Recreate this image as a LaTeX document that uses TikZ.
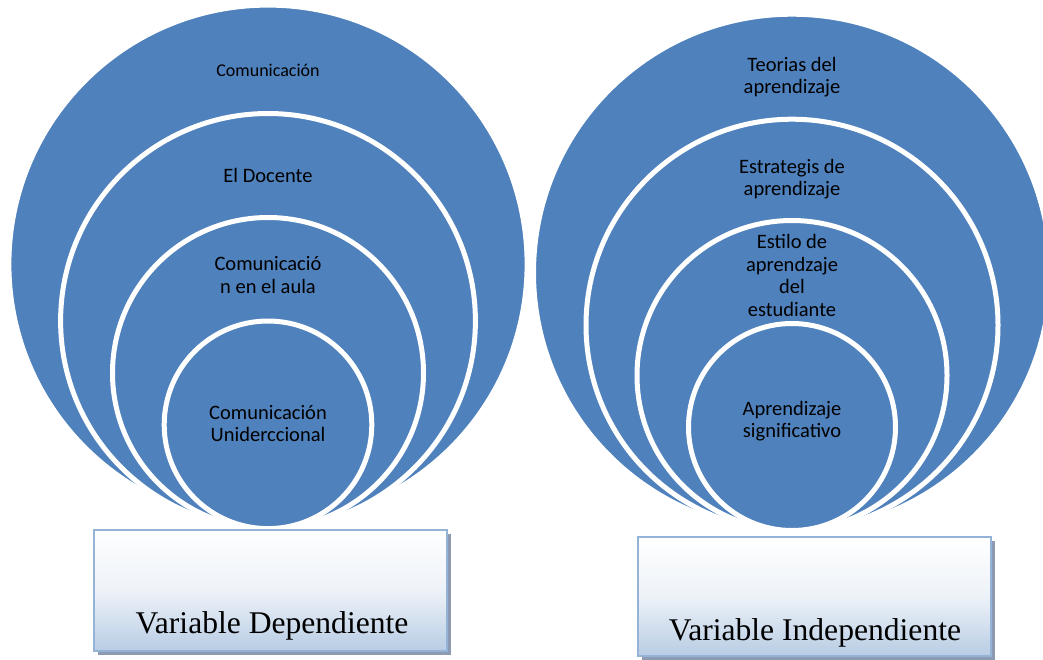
\documentclass[tikz,border=0pt]{standalone}
\usepackage{fontspec}
\setmainfont{Liberation Serif}
\newfontfamily\calib{Carlito}
\usetikzlibrary{shadows}
\definecolor{venn}{RGB}{79,129,189}
\definecolor{boxline}{RGB}{149,179,215}
\definecolor{boxfill}{RGB}{184,204,228}
\definecolor{boxshadow}{RGB}{140,155,178}
\begin{document}
\begin{tikzpicture}[x=1pt,y=-1pt,
  ring/.style={circle, fill=venn, draw=white, line width=5pt, inner sep=0pt, outer sep=0pt},
  lbl/.style={font=\calib\fontsize{20.5}{22.5}\selectfont, align=center, anchor=base, inner sep=0pt, text=black},
  lblsmall/.style={lbl, font=\calib\fontsize{18}{20}\selectfont},
  varbox/.style={rectangle, draw=boxline, line width=2pt, top color=white, bottom color=boxfill, middle color=white!75!boxfill,
    inner sep=0pt, minimum width=353pt,
    drop shadow={shadow xshift=4pt, shadow yshift=-4pt, fill=boxshadow, opacity=1}},
  vartext/.style={font=\fontsize{31.6}{36}\selectfont, anchor=base, inner sep=0pt}]
\useasboundingbox (0,0) rectangle (1043,659);
\clip (0,0) rectangle (1043,659);
% left set
\node[ring, minimum size=518.2pt] (L1) at (268,264.2) {};
\node[ring, minimum size=414.8pt] (L2) at (268,320.9) {};
\node[ring, minimum size=311pt] (L3) at (268,373) {};
\node[ring, minimum size=207.6pt] (L4) at (268,424.8) {};
% (multi-line labels are placed by the baseline of their last line)
\node[lblsmall] (tL1) at (268,76.4) {Comunicación};
\node[lbl] (tL2) at (268,182.5) {El Docente};
\node[lbl] (tL3) at (268,293) {Comunicació\\n en el aula};
\node[lbl] (tL4) at (268,441.8) {Comunicación\\Uniderccional};
% right set
\node[ring, minimum size=517pt] (R1) at (792,272.7) {};
\node[ring, minimum size=412pt] (R2) at (792,325.2) {};
\node[ring, minimum size=310pt] (R3) at (792,375.5) {};
\node[ring, minimum size=207pt] (R4) at (792,427) {};
\node[lbl] (tR1) at (792,93.8) {Teorias del\\aprendizaje};
\node[lbl] (tR2) at (792,195.5) {Estrategis de\\aprendizaje};
\node[lbl] (tR3) at (792,316) {Estilo de\\aprendzaje\\del\\estudiante};
\node[lbl] (tR4) at (792,437.5) {Aprendizaje\\significativo};
% boxes
\node[varbox, minimum height=121pt] (BL) at (270.5,590.5) {};
\node[vartext] (VL) at (272,633.5) {Variable Dependiente};
\node[varbox, minimum height=119pt] (BR) at (814.5,596.5) {};
\node[vartext] (VR) at (815,640.5) {Variable Independiente};
\end{tikzpicture}
\end{document}
